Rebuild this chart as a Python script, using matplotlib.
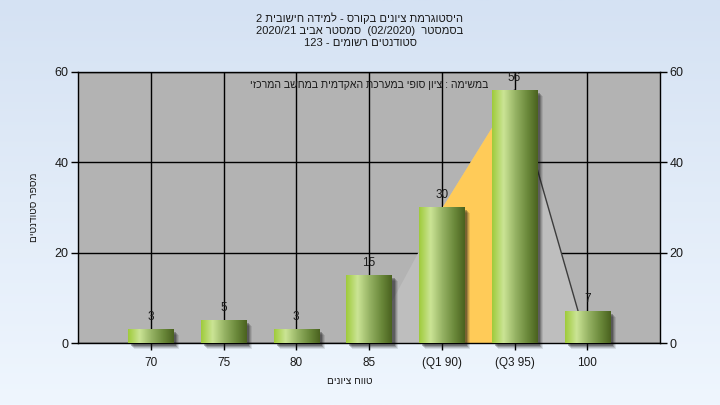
import numpy as np
import matplotlib
matplotlib.use('Agg')
import matplotlib.pyplot as plt
from matplotlib.colors import LinearSegmentedColormap
from matplotlib.patches import Rectangle
import matplotlib.transforms as mtransforms

plt.rcParams['font.family'] = ['Liberation Sans', 'DejaVu Sans']

# ---------------- data ----------------
categories = ['70', '75', '80', '85', '(Q1 90)', '(Q3 95)', '100']
counts = [3, 5, 3, 15, 30, 56, 7]
curve_vals = [0, 0, 0, 0, 30, 56, 0]      # background area series
quartile_range = [4, 5]                   # Q1..Q3 category indices
yticks = [0, 20, 40, 60]
title_lines = ['היסטוגרמת ציונים בקורס - למידה חישובית 2',
               'בסמסטר  (02/2020)  סמסטר אביב 2020/21',
               'סטודנטים רשומים - 123']
note_text = 'במשימה : ציון סופי במערכת האקדמית במחשב המרכזי'
xlabel_text = 'טווח ציונים'
ylabel_text = 'מספר סטודנטים'


def vis(s):
    """Convert logical RTL string to visual (left-to-right) order."""
    toks = s.split(' ')
    out = []
    for t in reversed(toks):
        if any('\u0590' <= c <= '\u05ff' for c in t):
            out.append(t[::-1])
        else:
            out.append(t)
    return ' '.join(out)


W, H = 720, 405
fig = plt.figure(figsize=(7.2, 4.05), dpi=100)

# background gradient
bg = fig.add_axes([0, 0, 1, 1], zorder=-10)
grad = np.linspace(0, 1, 256).reshape(-1, 1)
bg_cmap = LinearSegmentedColormap.from_list('bg', ['#d5e2f3', '#eff6fe'])
bg.imshow(grad, aspect='auto', cmap=bg_cmap, extent=[0, 1, 0, 1])
bg.set_axis_off()

L, R, T, B = 78, 660, 72, 343
ax = fig.add_axes([L / W, 1 - B / H, (R - L) / W, (B - T) / H])
ax.set_facecolor('#b3b3b3')
x = np.arange(len(categories))

# background area & quartile band
ax.fill_between(x, curve_vals, color='#bebebe', lw=0, zorder=1)
q0, q1 = quartile_range
ax.fill_between(x[q0:q1 + 1], curve_vals[q0:q1 + 1], color='#ffcb58', lw=0, zorder=1.2)
ax.plot(x[q1:q1 + 2], curve_vals[q1:q1 + 2], color='#3c3c3c', lw=1, zorder=1.4)

# bars with gradient and shadow
bar_w = 0.62
bar_cmap = LinearSegmentedColormap.from_list(
    'bar', [(0, '#9fcb3b'), (0.25, '#cbe495'), (0.5, '#98b566'),
            (0.78, '#6a883a'), (1.0, '#4a621f')])
hgrad = np.linspace(0, 1, 128).reshape(1, -1)
for i, (xi, h) in enumerate(zip(x, counts)):
    for dx, a in [(6, 0.10), (5, 0.15), (4, 0.22), (3, 0.3)]:
        tr = mtransforms.offset_copy(ax.transData, fig=fig, x=dx, y=-dx, units='dots')
        ax.add_patch(Rectangle((xi - bar_w / 2, 0), bar_w, h, transform=tr,
                               facecolor='#1a1a1a', alpha=a, lw=0, zorder=2,
                               clip_on=False))
    ax.imshow(hgrad, aspect='auto', cmap=bar_cmap,
              extent=[xi - bar_w / 2, xi + bar_w / 2, 0, h], zorder=3,
              interpolation='bilinear')
    ax.annotate(str(h), (xi, h), xytext=(0, 4.5), textcoords='offset points',
                ha='center', va='bottom', fontsize=8.5, color='#1a1a1a', zorder=4)

ax.set_xlim(-1, len(categories))
ax.set_ylim(0, 60)
ax.set_xticks(x)
ax.set_xticklabels(categories)
ax.set_yticks(yticks)
ax.grid(True, color='black', lw=1)
ax.set_axisbelow(True)
for s in ax.spines.values():
    s.set_color('black')
    s.set_linewidth(1)
ax.tick_params(axis='y', left=True, right=True, labelleft=True, labelright=True,
               direction='out', length=5, width=1, labelsize=9, colors='black',
               labelcolor='#1a1a1a', pad=2)
ax.tick_params(axis='x', bottom=True, direction='out', length=5, width=1,
               labelsize=8.5, labelcolor='#1a1a1a', pad=5)

# texts
for i, line in enumerate(title_lines):
    fig.text(360 / W, 1 - (18 + 12.5 * i) / H, vis(line), ha='center', va='center',
             fontsize=8, color='#1a1a1a')
fig.text(488 / W, 1 - 85 / H, vis(note_text), ha='right', va='center',
         fontsize=7.6, color='#1a1a1a')
fig.text(350 / W, 1 - 381 / H, vis(xlabel_text), ha='center', va='center',
         fontsize=7.3, color='#1a1a1a')
fig.text(34 / W, 1 - 207 / H, vis(ylabel_text), ha='center', va='center',
         fontsize=7.3, color='#1a1a1a', rotation=90)

fig.savefig('out.png', dpi=100)
